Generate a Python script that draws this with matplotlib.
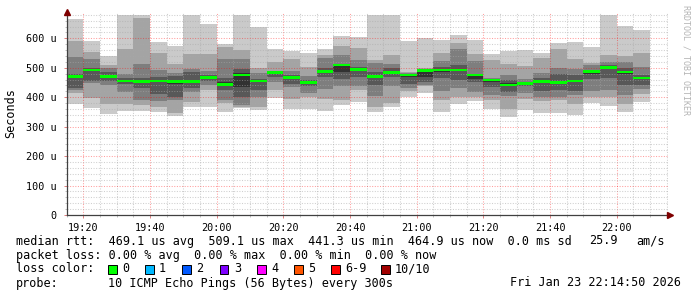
import matplotlib
matplotlib.use("Agg")
import matplotlib.pyplot as plt
from matplotlib.patches import Rectangle

# 5 minute slots (start time of every bin)
slot_start = ["19:15", "19:20", "19:25", "19:30", "19:35", "19:40", "19:45",
              "19:50", "19:55", "20:00", "20:05", "20:10", "20:15", "20:20",
              "20:25", "20:30", "20:35", "20:40", "20:45", "20:50", "20:55",
              "21:00", "21:05", "21:10", "21:15", "21:20", "21:25", "21:30",
              "21:35", "21:40", "21:45", "21:50", "21:55", "22:00", "22:05"]

# sorted ping rtt per slot (us), rank 1 = fastest ... rank 10 = slowest
ping_1 = [377, 365, 343, 354, 354, 351, 336, 368, 368, 351, 364, 357, 396, 359, 359, 354, 374, 385,
          351, 368, 400, 415, 351, 377, 388, 359, 334, 357, 347, 345, 340, 379, 370, 351, 385]
ping_2 = [415, 396, 378, 377, 372, 368, 348, 385, 425, 381, 368, 366, 425, 393, 402, 393, 391, 424,
          368, 380, 420, 438, 391, 402, 402, 391, 359, 393, 388, 391, 377, 402, 402, 377, 410]
ping_3 = [425, 448, 441, 419, 390, 386, 391, 419, 440, 392, 374, 402, 453, 433, 413, 427, 438, 438,
          404, 438, 430, 441, 420, 430, 419, 407, 404, 413, 402, 402, 407, 422, 425, 407, 427]
ping_4 = [432, 455, 455, 445, 430, 410, 402, 430, 455, 425, 402, 425, 470, 445, 438, 467, 461, 470,
          441, 470, 445, 453, 464, 458, 453, 436, 419, 438, 422, 425, 422, 461, 464, 441, 441]
ping_5 = [465, 489, 468, 452, 450, 450, 446, 447, 463, 438, 433, 450, 482, 464, 446, 484, 485, 490,
          465, 478, 470, 470, 485, 488, 462, 450, 438, 445, 450, 447, 450, 480, 497, 480, 462]
ping_6 = [477, 495, 475, 458, 458, 460, 460, 460, 470, 450, 482, 458, 486, 470, 452, 490, 509, 498,
          475, 487, 476, 488, 495, 495, 472, 458, 448, 450, 456, 455, 458, 489, 505, 490, 468]
ping_7 = [480, 500, 487, 465, 466, 470, 472, 487, 475, 465, 496, 462, 487, 475, 458, 498, 512, 504,
          487, 498, 478, 490, 504, 509, 480, 460, 458, 452, 464, 479, 475, 492, 509, 498, 475]
ping_8 = [538, 530, 498, 479, 513, 492, 483, 496, 490, 530, 530, 481, 490, 489, 472, 532, 543, 526,
          515, 513, 481, 492, 524, 564, 523, 465, 475, 461, 481, 498, 495, 509, 521, 521, 504]
ping_9 = [591, 553, 509, 563, 668, 550, 513, 547, 547, 572, 560, 498, 521, 529, 504, 543, 574, 566,
          526, 543, 487, 498, 549, 585, 547, 526, 513, 506, 532, 563, 529, 517, 543, 540, 551]
ping_10 = [666, 591, 540, 679, 679, 589, 575, 679, 649, 581, 679, 640, 563, 558, 551, 563, 608, 603,
           679, 679, 592, 600, 594, 611, 594, 547, 558, 560, 549, 585, 589, 572, 679, 642, 628]

median = [471, 492, 471, 455, 454, 455, 453, 453, 467, 444, 475, 455, 484, 467, 449, 487, 509, 495,
          470, 483, 475, 490, 492, 492, 475, 458, 441, 447, 453, 451, 455, 487, 501, 485, 465]

x_ticks = ["19:20", "19:40", "20:00", "20:20", "20:40", "21:00", "21:20", "21:40", "22:00"]
y_ticks = [0, 100, 200, 300, 400, 500, 600]
y_labels = ["0", "100 u", "200 u", "300 u", "400 u", "500 u", "600 u"]

loss_labels = ["0", "1", "2", "3", "4", "5", "6-9", "10/10"]
loss_colors = ["#00ff00", "#00b8ff", "#0059ff", "#7e00ff", "#ff00ff", "#ff5500", "#ff0000", "#a10000"]


def to_min(s):
    h, m = s.split(":")
    return int(h) * 60 + int(m)


W, H = 697, 297
MONO = "DejaVu Sans Mono"
fig = plt.figure(figsize=(W / 100, H / 100), dpi=100)
fig.patch.set_facecolor("white")

left, right, top, bottom = 66.7, 668.0, 11.8, 215.0
ax = fig.add_axes([left / W, 1 - bottom / H, (right - left) / W, (bottom - top) / H])

x0 = to_min(slot_start[0])
ax.set_xlim(x0, x0 + (right - left) / (50 / 3) * 5)
ax.set_ylim(0, 690)

xs = [to_min(s) for s in slot_start]
pings = [ping_1, ping_2, ping_3, ping_4, ping_5, ping_6, ping_7, ping_8, ping_9, ping_10]
shades = ["#cacaca", "#a4a4a4", "#7e7e7e", "#585858", "#323232"]
for k in range(5):
    lo = pings[k]
    hi = pings[9 - k]
    ax.bar(xs, [h - l for h, l in zip(hi, lo)], bottom=lo, width=5, align="edge",
           color=shades[k], linewidth=0, zorder=1)

# median as a thin green band
band = 9
ax.bar(xs, [band] * len(median), bottom=[m - band / 2 for m in median], width=5,
       align="edge", color=loss_colors[0], linewidth=0, zorder=4)

# grid
ax.set_xticks([to_min(t) for t in x_ticks])
ax.set_xticklabels(x_ticks)
ax.set_xticks(list(range(x0, x0 + 181, 5)), minor=True)
ax.set_yticks(y_ticks)
ax.set_yticklabels(y_labels)
ax.set_yticks(list(range(0, 681, 20)), minor=True)
ax.set_axisbelow(False)
ax.grid(which="major", color="#ff0000", alpha=0.38, linestyle=(0, (1, 1.5)), linewidth=0.75)
ax.grid(which="minor", color="#a8a8a8", alpha=0.55, linestyle=(0, (1, 1.5)), linewidth=0.75)

ax.tick_params(which="major", length=2, width=0.7, color="#e08080", pad=5.5,
               labelsize=7.3, labelcolor="black")
ax.tick_params(which="minor", length=1.5, width=0.7, color="#c0c0c0")
for lab in ax.get_xticklabels() + ax.get_yticklabels():
    lab.set_fontfamily(MONO)
ax.tick_params(axis="x", pad=4)

for sp in ax.spines.values():
    sp.set_visible(False)
ax.plot([0, 0], [0, 1.0], color="#404040", lw=0.9, transform=ax.transAxes, clip_on=False, zorder=5)
ax.plot([0, 1.003], [0, 0], color="#404040", lw=0.9, transform=ax.transAxes, clip_on=False, zorder=5)
ax.plot([0], [1.0], marker="^", ms=4, color="#7f0000", transform=ax.transAxes, clip_on=False, zorder=6)
ax.plot([1.004], [0], marker=">", ms=4, color="#7f0000", transform=ax.transAxes, clip_on=False, zorder=6)


def put(x, y, s, **kw):
    fig.text(x / W, 1 - y / H, s, family=MONO, **kw)


put(11, 113, "Seconds", fontsize=8.5, rotation=90, ha="center", va="center")
put(686, 60, "RRDTOOL / TOBI OETIKER", fontsize=6, rotation=270, ha="center", va="center",
    color="#b4b4b4")

fs = 8.5
put(16, 241, "median rtt:  469.1 us avg  509.1 us max  441.3 us min  464.9 us now  0.0 ms sd",
    fontsize=fs, va="center")
put(589, 241, "25.9", fontsize=fs, va="center")
put(636, 241, "am/s", fontsize=fs, va="center")
put(16, 255, "packet loss: 0.00 % avg  0.00 % max  0.00 % min  0.00 % now", fontsize=fs, va="center")
put(16, 269, "loss color:", fontsize=fs, va="center")
box_x = [108, 145, 182, 220, 257, 294, 331, 381]
for bx, lab, col in zip(box_x, loss_labels, loss_colors):
    fig.add_artist(Rectangle((bx / W, 1 - 273.5 / H), 8.5 / W, 9 / H, transform=fig.transFigure,
                             facecolor=col, edgecolor="black", linewidth=0.7))
    put(bx + 14, 269, lab, fontsize=fs, va="center")
put(16, 283, "probe:", fontsize=fs, va="center")
put(108, 283, "10 ICMP Echo Pings (56 Bytes) every 300s", fontsize=fs, va="center")
put(681, 283, "Fri Jan 23 22:14:50 2026", fontsize=fs, va="center", ha="right")

fig.savefig("out.png", dpi=100, facecolor="white")
